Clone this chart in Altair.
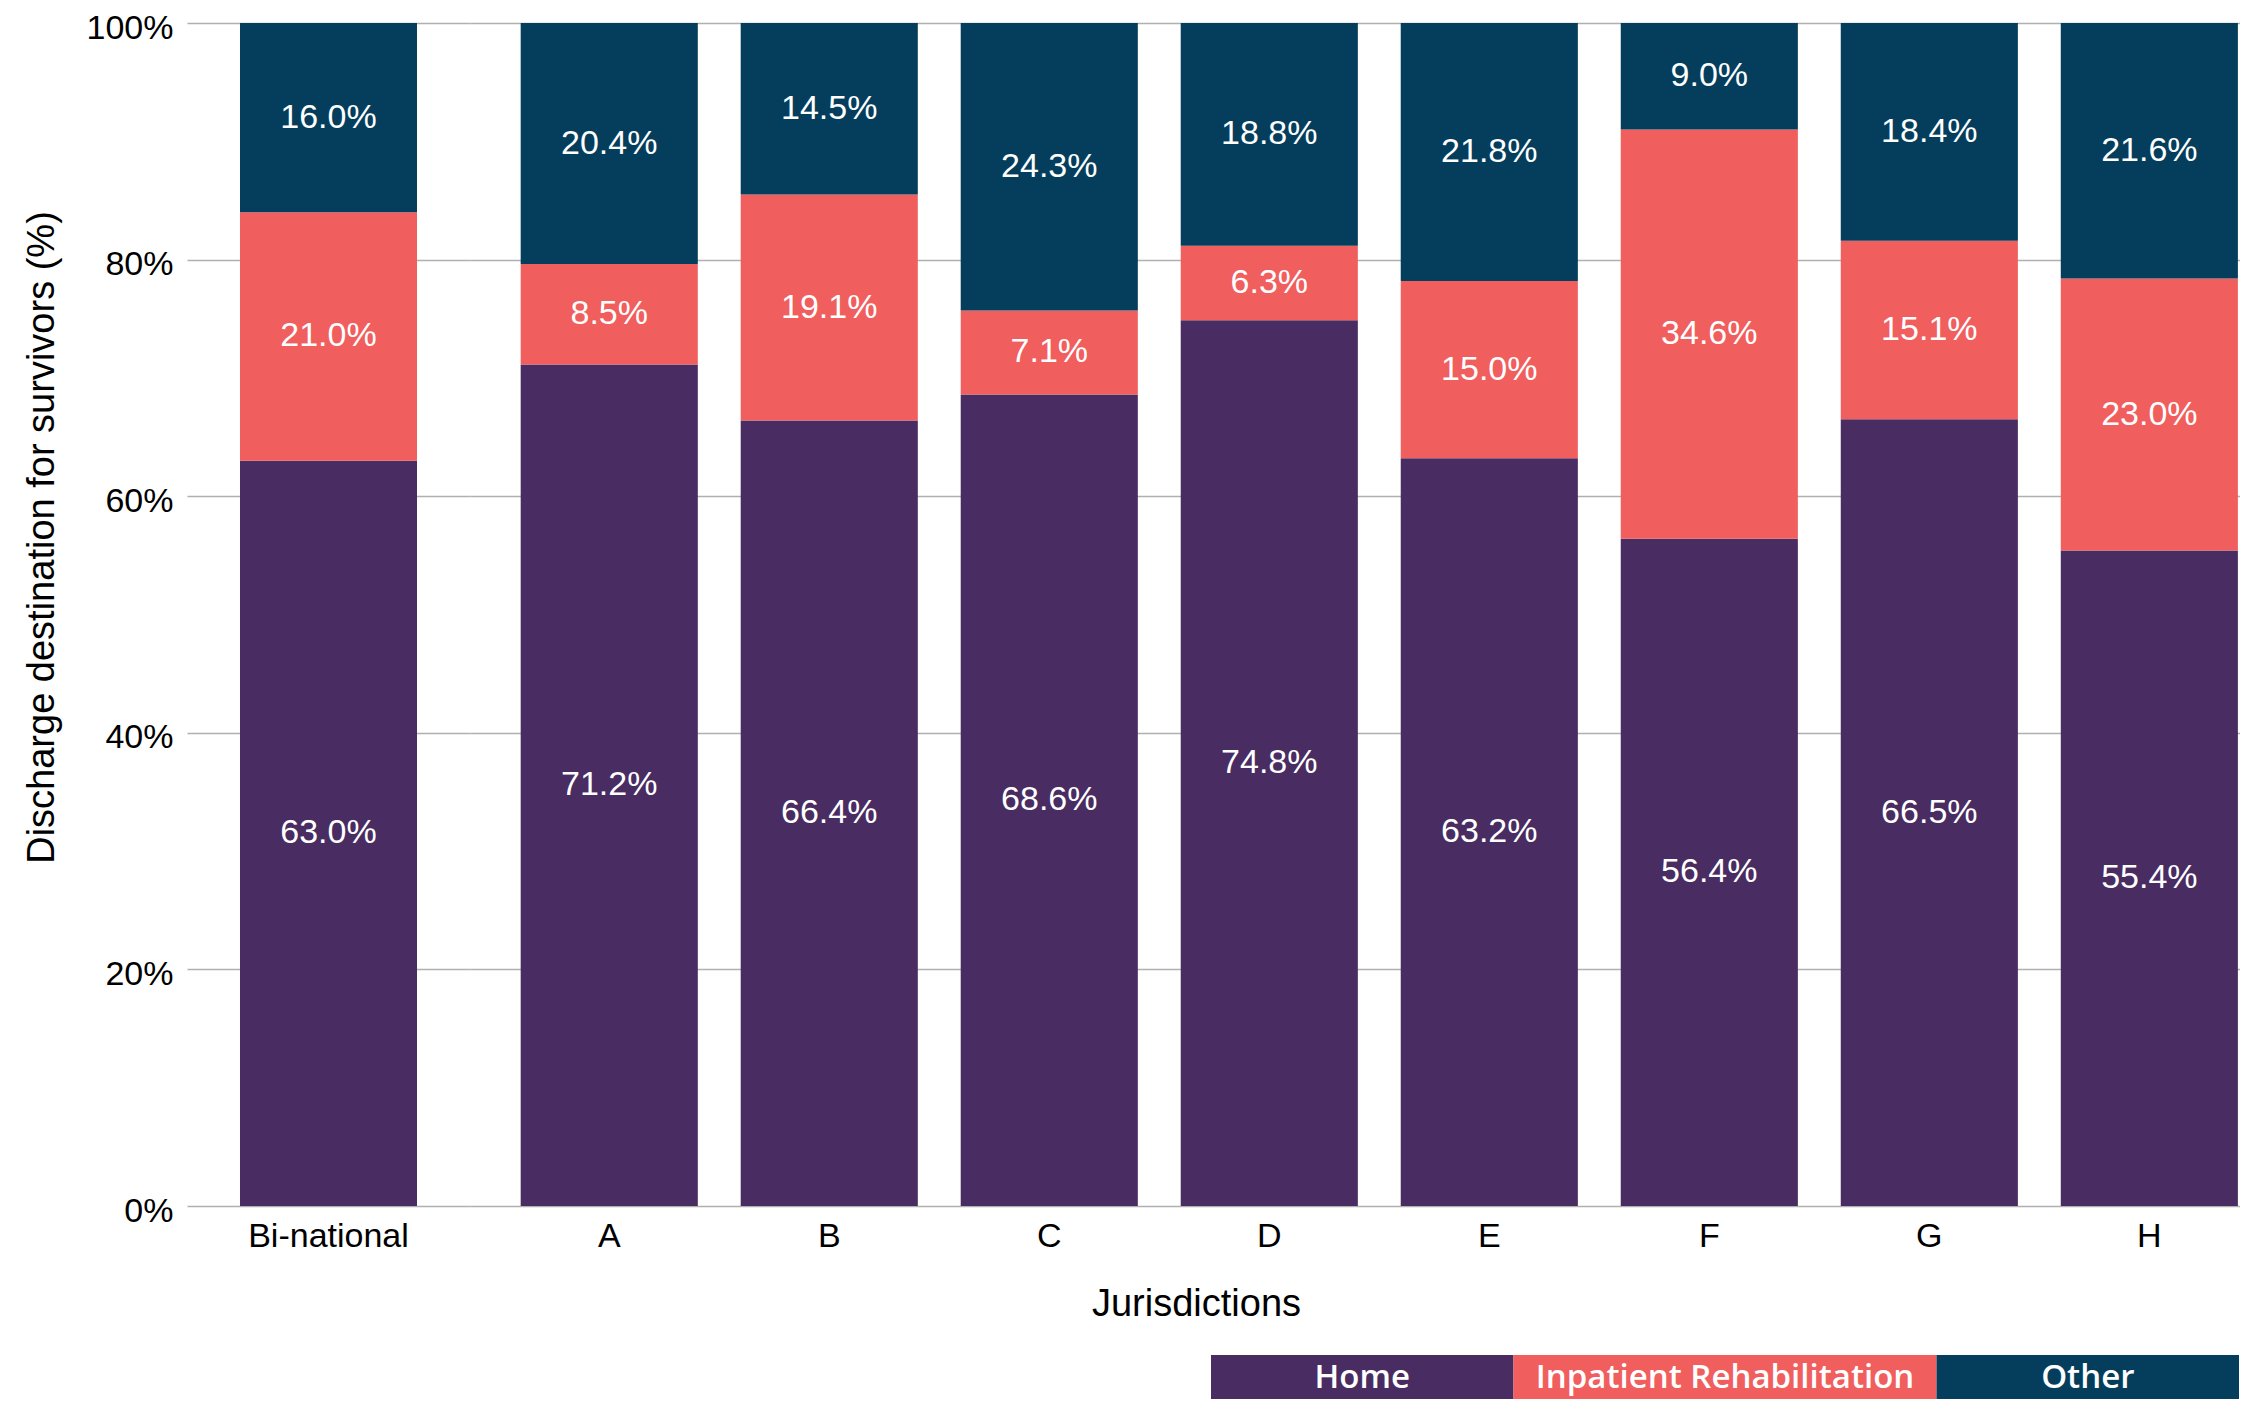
import altair as alt
import pandas as pd

# ---------------- data ----------------
national = ["Bi-national"]
jurisdictions = ["A", "B", "C", "D", "E", "F", "G", "H"]
destinations = ["Home", "Inpatient Rehabilitation", "Other"]
dest_colors = ["#482C62", "#F05E5E", "#043E5C"]

# values in the order: Bi-national, A, B, C, D, E, F, G, H
home = [63.0, 71.2, 66.4, 68.6, 74.8, 63.2, 56.4, 66.5, 55.4]
rehab = [21.0, 8.5, 19.1, 7.1, 6.3, 15.0, 34.6, 15.1, 23.0]
other = [16.0, 20.4, 14.5, 24.3, 18.8, 21.8, 9.0, 18.4, 21.6]

all_j = national + jurisdictions
rows = []
for i, j in enumerate(all_j):
    for k, (d, vals) in enumerate(zip(destinations, [home, rehab, other])):
        rows.append({"jurisdiction": j, "dest": d, "ord": k, "value": vals[i]})
df = pd.DataFrame(rows)
df_nat = df[df["jurisdiction"].isin(national)]
df_jur = df[df["jurisdiction"].isin(jurisdictions)]

color_scale = alt.Scale(domain=destinations, range=dest_colors)
FONT = "Liberation Sans"


def panel(data, domain, width, xscale, show_y, x_title):
    base = (
        alt.Chart(data)
        .transform_joinaggregate(total="sum(value)", groupby=["jurisdiction"])
        .transform_window(
            cum="sum(value)",
            sort=[alt.SortField("ord")],
            groupby=["jurisdiction"],
            frame=[None, 0],
        )
        .transform_calculate(
            y0="(datum.cum - datum.value) / datum.total",
            y1="datum.cum / datum.total",
            ym="(datum.cum - datum.value / 2) / datum.total",
            lab="format(datum.value, '.1f') + '%'",
        )
    )
    xaxis_kw = dict(
        labelFontSize=34, labelFont=FONT, labelColor="#000000", labelAngle=0,
        labelPadding=13, domain=False, ticks=False, tickSize=0, grid=False,
    )
    if x_title:
        xaxis_kw.update(
            title=x_title, titleFontSize=38, titleFont=FONT, titleFontWeight="normal",
            titleColor="#000000", titlePadding=32, titleX=726,
        )
    else:
        xaxis_kw.update(title=None)
    if show_y:
        yaxis = alt.Axis(
            format="%", values=[0, 0.2, 0.4, 0.6, 0.8, 1.0],
            labelFontSize=34, labelFont=FONT, labelColor="#000000",
            labelPadding=14, labelBaseline="middle", labelFlush=False, labelOffset=5,
            domain=False, ticks=False, tickSize=0,
            grid=True, gridColor="#b0b0b0", gridWidth=1.5,
            title="Discharge destination for survivors (%)",
            titleFontSize=38, titleFont=FONT, titleFontWeight="normal",
            titleColor="#000000", titlePadding=25, titleY=514,
        )
    else:
        yaxis = alt.Axis(
            values=[0, 0.2, 0.4, 0.6, 0.8, 1.0], labels=False, domain=False,
            ticks=False, tickSize=0, grid=True, gridColor="#b0b0b0",
            gridWidth=1.5, title=None,
        )
    x = alt.X("jurisdiction:N", sort=domain, scale=xscale, axis=alt.Axis(**xaxis_kw))
    bars = base.mark_bar().encode(
        x=x,
        y=alt.Y("y0:Q", scale=alt.Scale(domain=[0, 1], nice=False), axis=yaxis),
        y2="y1:Q",
        color=alt.Color("dest:N", scale=color_scale, legend=None),
    )
    labels = base.mark_text(
        font=FONT, fontSize=34, color="white", baseline="middle", align="center"
    ).encode(
        x=alt.X("jurisdiction:N", sort=domain),
        y=alt.Y("ym:Q"),
        text="lab:N",
    )
    return alt.layer(bars, labels).properties(width=width, height=1183)


left = panel(
    df_nat, national, 283,
    alt.Scale(domain=national, paddingInner=0.195, paddingOuter=0.241),
    True, None,
)
right = panel(
    df_jur, jurisdictions, 1770,
    alt.Scale(domain=jurisdictions, paddingInner=0.195, paddingOuter=0.12, align=0.96),
    False, "Jurisdictions",
)

# ---------------- legend (coloured blocks with text inside) ----------------
legend_df = pd.DataFrame({"dest": destinations, "ord": list(range(len(destinations)))})
leg_base = (
    alt.Chart(legend_df)
    .transform_calculate(w="max(length(datum.dest) * 17.6, 302)")
    .transform_window(x1="sum(w)", sort=[alt.SortField("ord")], frame=[None, 0])
    .transform_calculate(x0="datum.x1 - datum.w", xm="datum.x1 - datum.w / 2")
)
leg_rect = leg_base.mark_rect().encode(
    x=alt.X("x0:Q", scale=alt.Scale(range=[1024, 2052], nice=False, zero=True), axis=None),
    x2="x1:Q",
    y=alt.value(0),
    y2=alt.value(44),
    color=alt.Color("dest:N", scale=color_scale, legend=None),
)
leg_text = leg_base.mark_text(
    font="Open Sans", fontSize=33, fontWeight=600, color="white",
    baseline="middle", align="center",
).encode(x=alt.X("xm:Q"), y=alt.value(23), text="dest:N")
legend_chart = alt.layer(leg_rect, leg_text).properties(width=2053, height=44)

top = alt.hconcat(left, right, spacing=0)
chart = (
    alt.vconcat(top, legend_chart, spacing=32)
    .properties(padding={"left": 15, "top": 3, "right": 0, "bottom": 0}, background="white")
    .configure_view(stroke=None)
)

chart.save("out.html", embed_options={"renderer": "svg", "actions": False})
